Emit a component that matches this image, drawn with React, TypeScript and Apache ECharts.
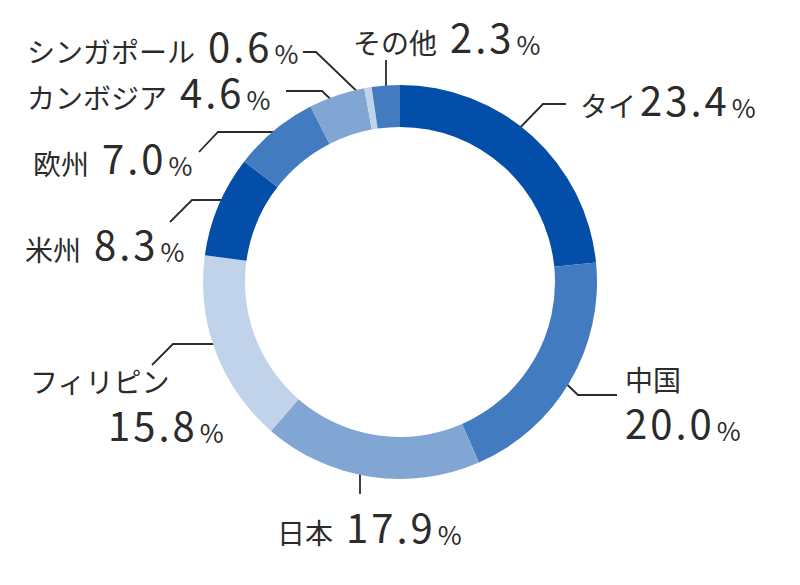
import React, { useEffect, useRef } from "react";
import * as echarts from "echarts";

const categories = ["タイ", "中国", "日本", "フィリピン", "米州", "欧州", "カンボジア", "シンガポール", "その他"];
const shares = [23.4, 20.0, 17.9, 15.8, 8.3, 7.0, 4.6, 0.6, 2.3];
const sliceColors = ["#034ea8", "#427bbf", "#81a6d4", "#c1d3ea", "#034ea8", "#427bbf", "#81a6d4", "#c1d3ea", "#427bbf"];

// label layout: anchor (left x, bottom y), space after name, two-line flag, value indent, leader line points
const labelPos: { x: number; y: number; gap: number; twoLine?: boolean; indent?: number; line: number[][] }[] = [
  { x: 580, y: 119, gap: 2, line: [[511, 137], [543, 104], [566, 104]] },
  { x: 625, y: 442, gap: 0, twoLine: true, indent: 0, line: [[556, 374], [578, 395], [617, 395]] },
  { x: 277, y: 546, gap: 12, line: [[360, 461], [360, 494]] },
  { x: 30, y: 444, gap: 0, twoLine: true, indent: 78, line: [[233, 344], [173, 344], [152, 365]] },
  { x: 25, y: 263, gap: 12, line: [[237, 200], [192, 200], [170, 222]] },
  { x: 33, y: 177, gap: 12, line: [[287, 132], [218, 132], [199, 152]] },
  { x: 27, y: 111, gap: 12, line: [[344, 112], [322, 91], [286, 91]] },
  { x: 27, y: 65, gap: 12, line: [[366, 100], [316, 52], [303, 52]] },
  { x: 353, y: 56, gap: 12, line: [[386, 60], [386, 96]] },
];

const FONT = '"Noto Sans CJK JP", "Noto Sans", sans-serif';
const TEXT = "#2b2b2b";

const spaced = (s: string) =>
  s
    .split("")
    .map((c, i, arr) => `{${i === arr.length - 1 ? "d" : "ds"}|${c}}`)
    .join("");

export default function App() {
  const ref = useRef<HTMLDivElement>(null);
  useEffect(() => {
    if (!ref.current) return;
    const chart = echarts.init(ref.current, null, { renderer: "svg" });
    const data = categories.map((name, i) => ({
      name,
      value: shares[i],
      itemStyle: { color: sliceColors[i] },
    }));
    const base = { fontFamily: FONT, color: TEXT, verticalAlign: "bottom" };
    chart.setOption({
      animation: false,
      series: [
        {
          type: "pie",
          center: [400, 282],
          radius: [155, 197],
          startAngle: 90,
          clockwise: true,
          avoidLabelOverlap: false,
          itemStyle: { borderWidth: 0 },
          emphasis: { disabled: true },
          data,
          label: {
            show: true,
            position: "outside",
            fontFamily: FONT,
            color: TEXT,
            formatter: (p: any) => {
              const L = labelPos[p.dataIndex];
              const v = Number(p.value).toFixed(1);
              if (L.twoLine) {
                const ind = L.indent ? `{ind|}` : "";
                return `{nt|${p.name}}\n${ind}${spaced(v)}{p|%}`;
              }
              return `{${L.gap > 4 ? "ns" : "n"}|${p.name}}${spaced(v)}{p|%}`;
            },
            rich: {
              n: { ...base, fontSize: 28, lineHeight: 38, padding: [0, 4, 0, 0] },
              ns: { ...base, fontSize: 28, lineHeight: 38, padding: [0, 13, 0, 0] },
              nt: { ...base, fontSize: 28, lineHeight: 32, padding: [0, 0, 11, 0] },
              ds: { ...base, fontSize: 40, lineHeight: 38, padding: [0, 3, 0, 0] },
              d: { ...base, fontSize: 40, lineHeight: 38 },
              ind: { ...base, fontSize: 10, lineHeight: 10, width: 78 },
              p: { ...base, fontSize: 26, lineHeight: 34, padding: [0, 0, 0, 5] },
            },
          },
          labelLine: {
            show: true,
            lineStyle: { color: TEXT, width: 1.8 },
          },
          labelLayout: (params: any) => {
            const L = labelPos[params.dataIndex];
            return {
              x: L.x,
              y: L.y,
              align: "left",
              verticalAlign: "bottom",
              labelLinePoints: L.line,
            };
          },
        },
      ],
    });
    return () => chart.dispose();
  }, []);
  return <div ref={ref} style={{ width: 800, height: 585, position: "absolute", left: 0, top: 0 }} />;
}
